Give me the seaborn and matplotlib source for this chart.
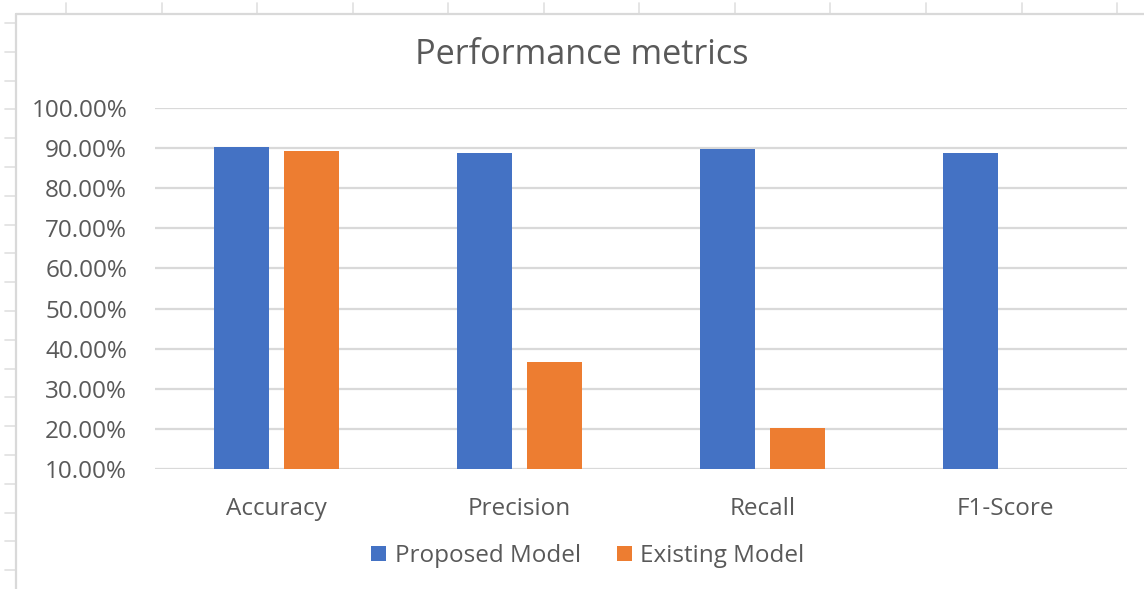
import numpy as np
import pandas as pd
import matplotlib
matplotlib.use("Agg")
import matplotlib.pyplot as plt
from matplotlib.lines import Line2D
from matplotlib.ticker import FuncFormatter
import seaborn as sns

categories = ["Accuracy", "Precision", "Recall", "F1-Score"]
series_names = ["Proposed Model", "Existing Model"]
proposed = [90.25, 88.9, 89.9, 88.9]
existing = [89.25, 36.7, 20.1, 0.0]
y_ticks = [10, 20, 30, 40, 50, 60, 70, 80, 90, 100]
title_text = "Performance metrics"

colors = ["#4472C4", "#ED7D31"]
text_color = "#595959"
grid_color = "#D9D9D9"

sns.set_theme(style="white")
plt.rcParams["font.family"] = ["Open Sans", "DejaVu Sans"]

df = pd.DataFrame({
    "metric": categories * 2,
    "value": proposed + existing,
    "model": [series_names[0]] * 4 + [series_names[1]] * 4,
})

W, H = 1144, 589
fig = plt.figure(figsize=(W / 100, H / 100), dpi=100)
fig.patch.set_facecolor("white")

# Spreadsheet decoration: column/row marks and chart border
def px_line(x0, y0, x1, y1, color="#E0E0E0", lw=1.2):
    fig.add_artist(Line2D([x0 / W, x1 / W], [1 - y0 / H, 1 - y1 / H],
                          transform=fig.transFigure, color=color, lw=lw))

for i in range(12):
    x = 66 + 95.55 * i
    px_line(x, 3, x, 14)
for j in range(20):
    y = 23 + 28.8 * j
    if y > H:
        break
    px_line(5, y, 16, y)
px_line(16, 14, W, 14, color="#D9D9D9", lw=1.6)
px_line(16, 14, 16, H, color="#D9D9D9", lw=1.6)

ax = fig.add_axes([155 / W, 1 - 469 / H, (1127 - 155) / W, (469 - 108) / H])
sns.barplot(data=df, x="metric", y="value", hue="model", palette=colors,
            width=0.576, gap=0.215, linewidth=0, saturation=1, ax=ax,
            legend=True)

ax.set_ylim(10, 100)
ax.set_yticks(y_ticks)
ax.yaxis.set_major_formatter(FuncFormatter(lambda v, p: f"{v:.2f}%"))
ax.grid(axis="y", color=grid_color, lw=1.6)
ax.set_axisbelow(True)
for s in ax.spines.values():
    s.set_visible(False)
ax.set_xlabel("")
ax.set_ylabel("")
ax.tick_params(axis="both", length=0, labelsize=17.5, colors=text_color)
ax.tick_params(axis="y", pad=20)
ax.tick_params(axis="x", pad=20)

handles, labels = ax.get_legend_handles_labels()
ax.get_legend().remove()
fig.legend(handles, labels, loc="center", bbox_to_anchor=(588 / W, 1 - 556 / H),
           ncol=2, frameon=False, fontsize=17.5, labelcolor=text_color,
           handlelength=0.6, handleheight=0.6, handletextpad=0.35,
           columnspacing=1.5)

fig.text(582 / W, 1 - 55 / H, title_text, ha="center", va="center",
         fontsize=24.7, color=text_color)

fig.savefig("out.png", dpi=100, facecolor="white")
